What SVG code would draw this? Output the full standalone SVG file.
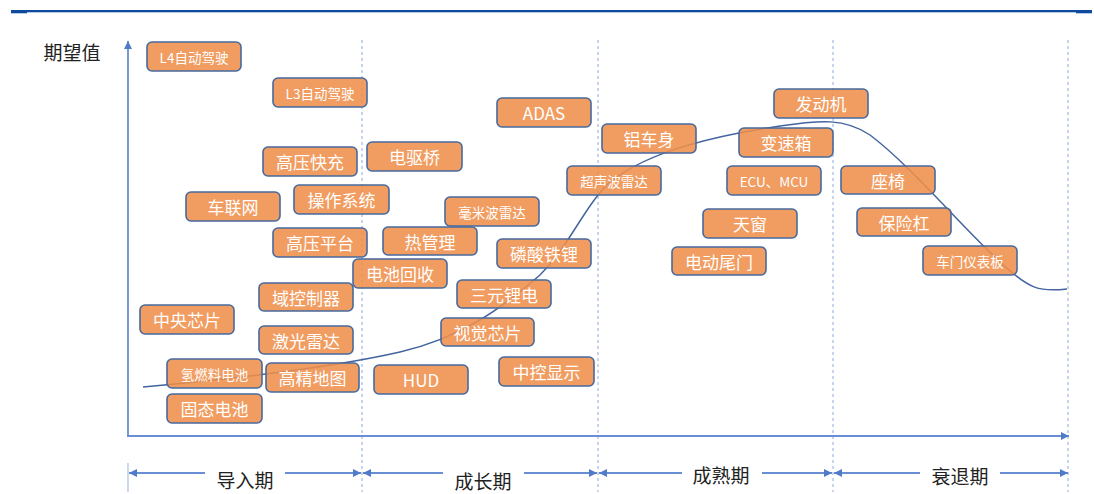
<svg xmlns="http://www.w3.org/2000/svg" width="1094" height="494" viewBox="0 0 1094 494">
<defs>
<style>
.box rect{fill:#EF8E4A;fill-opacity:0.88;stroke:#47699F;stroke-width:1.6}
.box text{fill:#FFFFFF;font-family:"Noto Sans CJK SC","Microsoft YaHei",sans-serif;font-size:17px;text-anchor:middle;dominant-baseline:central}
.box text.s{font-size:13.5px}
.lbl{fill:#222;font-family:"Noto Sans CJK SC",sans-serif;font-size:19px;text-anchor:middle;dominant-baseline:central}
.dash{stroke:#8FAADC;stroke-width:1;stroke-dasharray:3 3;fill:none}
.axis{stroke:#6A8ED3;stroke-width:1.8;fill:none}
.span{stroke:#6A8ED3;stroke-width:2;fill:none}
</style>
<marker id="ah" viewBox="0 0 10 10" refX="10" refY="5" markerWidth="9" markerHeight="8" markerUnits="userSpaceOnUse" orient="auto-start-reverse">
<path d="M0,0 L10,5 L0,10 z" fill="#4F7BC9"/>
</marker>
</defs>
<rect x="0" y="0" width="1094" height="494" fill="#FFFFFF"/>
<g id="header">
<rect x="11" y="10" width="1081" height="2.3" fill="#0E4B9F"/>
<rect x="11" y="10" width="16" height="3.3" fill="#0E4B9F"/>
<rect x="1076" y="10" width="16" height="3.3" fill="#0E4B9F"/>
</g>
<g id="connectors">
<line class="dash" x1="362" y1="40" x2="362" y2="492"/>
<line class="dash" x1="598" y1="40" x2="598" y2="492"/>
<line class="dash" x1="833" y1="40" x2="833" y2="492"/>
<line class="dash" x1="1068" y1="40" x2="1068" y2="492"/>
<line class="axis" x1="128" y1="436" x2="128" y2="41" marker-end="url(#ah)"/>
<line class="axis" x1="127" y1="436" x2="1069" y2="436" marker-end="url(#ah)"/>
<line x1="128" y1="463" x2="128" y2="492" stroke="#A9BFE6" stroke-width="1.2"/>
<path d="M143,387 C220,380 330,368 400,352 C460,338 500,310 540,275 C570,245 585,205 610,182 C650,150 720,135 780,126 C820,120 845,118 870,135 C910,165 960,225 1000,262 C1030,290 1040,292 1067,289" fill="none" stroke="#43659F" stroke-width="1.5"/>
<line class="span" x1="205" y1="473" x2="129" y2="473" marker-end="url(#ah)"/>
<line class="span" x1="285" y1="473" x2="361" y2="473" marker-end="url(#ah)"/>
<line class="span" x1="443" y1="473" x2="363" y2="473" marker-end="url(#ah)"/>
<line class="span" x1="524" y1="473" x2="597" y2="473" marker-end="url(#ah)"/>
<line class="span" x1="682" y1="473" x2="599" y2="473" marker-end="url(#ah)"/>
<line class="span" x1="762" y1="473" x2="832" y2="473" marker-end="url(#ah)"/>
<line class="span" x1="920" y1="473" x2="834" y2="473" marker-end="url(#ah)"/>
<line class="span" x1="1000" y1="473" x2="1068" y2="473" marker-end="url(#ah)"/>
</g>
<g id="labels">
<text class="lbl" x="72" y="51">期望值</text>
<text class="lbl" x="245" y="479">导入期</text>
<text class="lbl" x="483" y="480">成长期</text>
<text class="lbl" x="721" y="474">成熟期</text>
<text class="lbl" x="960" y="475">衰退期</text>
</g>
<g id="n_l4" class="box"><rect x="147" y="42" width="94" height="29" rx="5"/><text class="s" x="194" y="56.5">L4自动驾驶</text></g>
<g id="n_l3" class="box"><rect x="273" y="78" width="94" height="29" rx="5"/><text class="s" x="320" y="92.5">L3自动驾驶</text></g>
<g id="n_gykc" class="box"><rect x="263" y="147" width="94" height="29" rx="5"/><text x="310" y="161.5">高压快充</text></g>
<g id="n_dqq" class="box"><rect x="367" y="142" width="95" height="29" rx="5"/><text x="414.5" y="156.5">电驱桥</text></g>
<g id="n_clw" class="box"><rect x="186" y="192" width="94" height="29" rx="5"/><text x="233" y="206.5">车联网</text></g>
<g id="n_czxt" class="box"><rect x="294" y="185" width="95" height="29" rx="5"/><text x="341.5" y="199.5">操作系统</text></g>
<g id="n_hmb" class="box"><rect x="445" y="197" width="94" height="29" rx="5"/><text class="s" x="492" y="211.5">毫米波雷达</text></g>
<g id="n_gypt" class="box"><rect x="273" y="228" width="94" height="29" rx="5"/><text x="320" y="242.5">高压平台</text></g>
<g id="n_rgl" class="box"><rect x="383" y="227" width="94" height="28" rx="5"/><text x="430" y="241">热管理</text></g>
<g id="n_dchs" class="box"><rect x="353" y="259" width="94" height="29" rx="5"/><text x="400" y="273.5">电池回收</text></g>
<g id="n_lstl" class="box"><rect x="497" y="239" width="94" height="29" rx="5"/><text x="544" y="253.5">磷酸铁锂</text></g>
<g id="n_sylt" class="box"><rect x="457" y="280" width="94" height="28" rx="5"/><text x="504" y="294">三元锂电</text></g>
<g id="n_ykzq" class="box"><rect x="259" y="283" width="94" height="28" rx="5"/><text x="306" y="297">域控制器</text></g>
<g id="n_zyxp" class="box"><rect x="140" y="305" width="94" height="29" rx="5"/><text x="187" y="319.5">中央芯片</text></g>
<g id="n_jgld" class="box"><rect x="259" y="326" width="94" height="28" rx="5"/><text x="306" y="340">激光雷达</text></g>
<g id="n_sjxp" class="box"><rect x="441" y="318" width="93" height="28" rx="5"/><text x="487.5" y="332">视觉芯片</text></g>
<g id="n_qrl" class="box"><rect x="167" y="359" width="95" height="29" rx="5"/><text class="s" x="214.5" y="373.5">氢燃料电池</text></g>
<g id="n_gjdt" class="box"><rect x="266" y="363" width="93" height="29" rx="5"/><text x="312.5" y="377.5">高精地图</text></g>
<g id="n_hud" class="box"><rect x="374" y="365" width="94" height="29" rx="5"/><text x="421" y="379.5">HUD</text></g>
<g id="n_zkxs" class="box"><rect x="499" y="357" width="95" height="29" rx="5"/><text x="546.5" y="371.5">中控显示</text></g>
<g id="n_gtdc" class="box"><rect x="167" y="394" width="95" height="29" rx="5"/><text x="214.5" y="408.5">固态电池</text></g>
<g id="n_adas" class="box"><rect x="497" y="98" width="94" height="29" rx="5"/><text x="544" y="112.5">ADAS</text></g>
<g id="n_lcs" class="box"><rect x="602" y="124" width="94" height="29" rx="5"/><text x="649" y="138.5">铝车身</text></g>
<g id="n_csb" class="box"><rect x="567" y="166" width="94" height="29" rx="5"/><text class="s" x="614" y="180.5">超声波雷达</text></g>
<g id="n_fdj" class="box"><rect x="774" y="89" width="94" height="29" rx="5"/><text x="821" y="103.5">发动机</text></g>
<g id="n_bsx" class="box"><rect x="739" y="128" width="94" height="29" rx="5"/><text x="786" y="142.5">变速箱</text></g>
<g id="n_ecu" class="box"><rect x="727" y="166" width="94" height="29" rx="5"/><text class="s" x="774" y="180.5">ECU、MCU</text></g>
<g id="n_tc" class="box"><rect x="703" y="209" width="94" height="29" rx="5"/><text x="750" y="223.5">天窗</text></g>
<g id="n_ddwm" class="box"><rect x="672" y="247" width="94" height="28" rx="5"/><text x="719" y="261">电动尾门</text></g>
<g id="n_zy" class="box"><rect x="841" y="166" width="94" height="28" rx="5"/><text x="888" y="180">座椅</text></g>
<g id="n_bxg" class="box"><rect x="857" y="208" width="94" height="28" rx="5"/><text x="904" y="222">保险杠</text></g>
<g id="n_cmyb" class="box"><rect x="923" y="246" width="94" height="29" rx="5"/><text class="s" x="970" y="260.5">车门仪表板</text></g>
</svg>
